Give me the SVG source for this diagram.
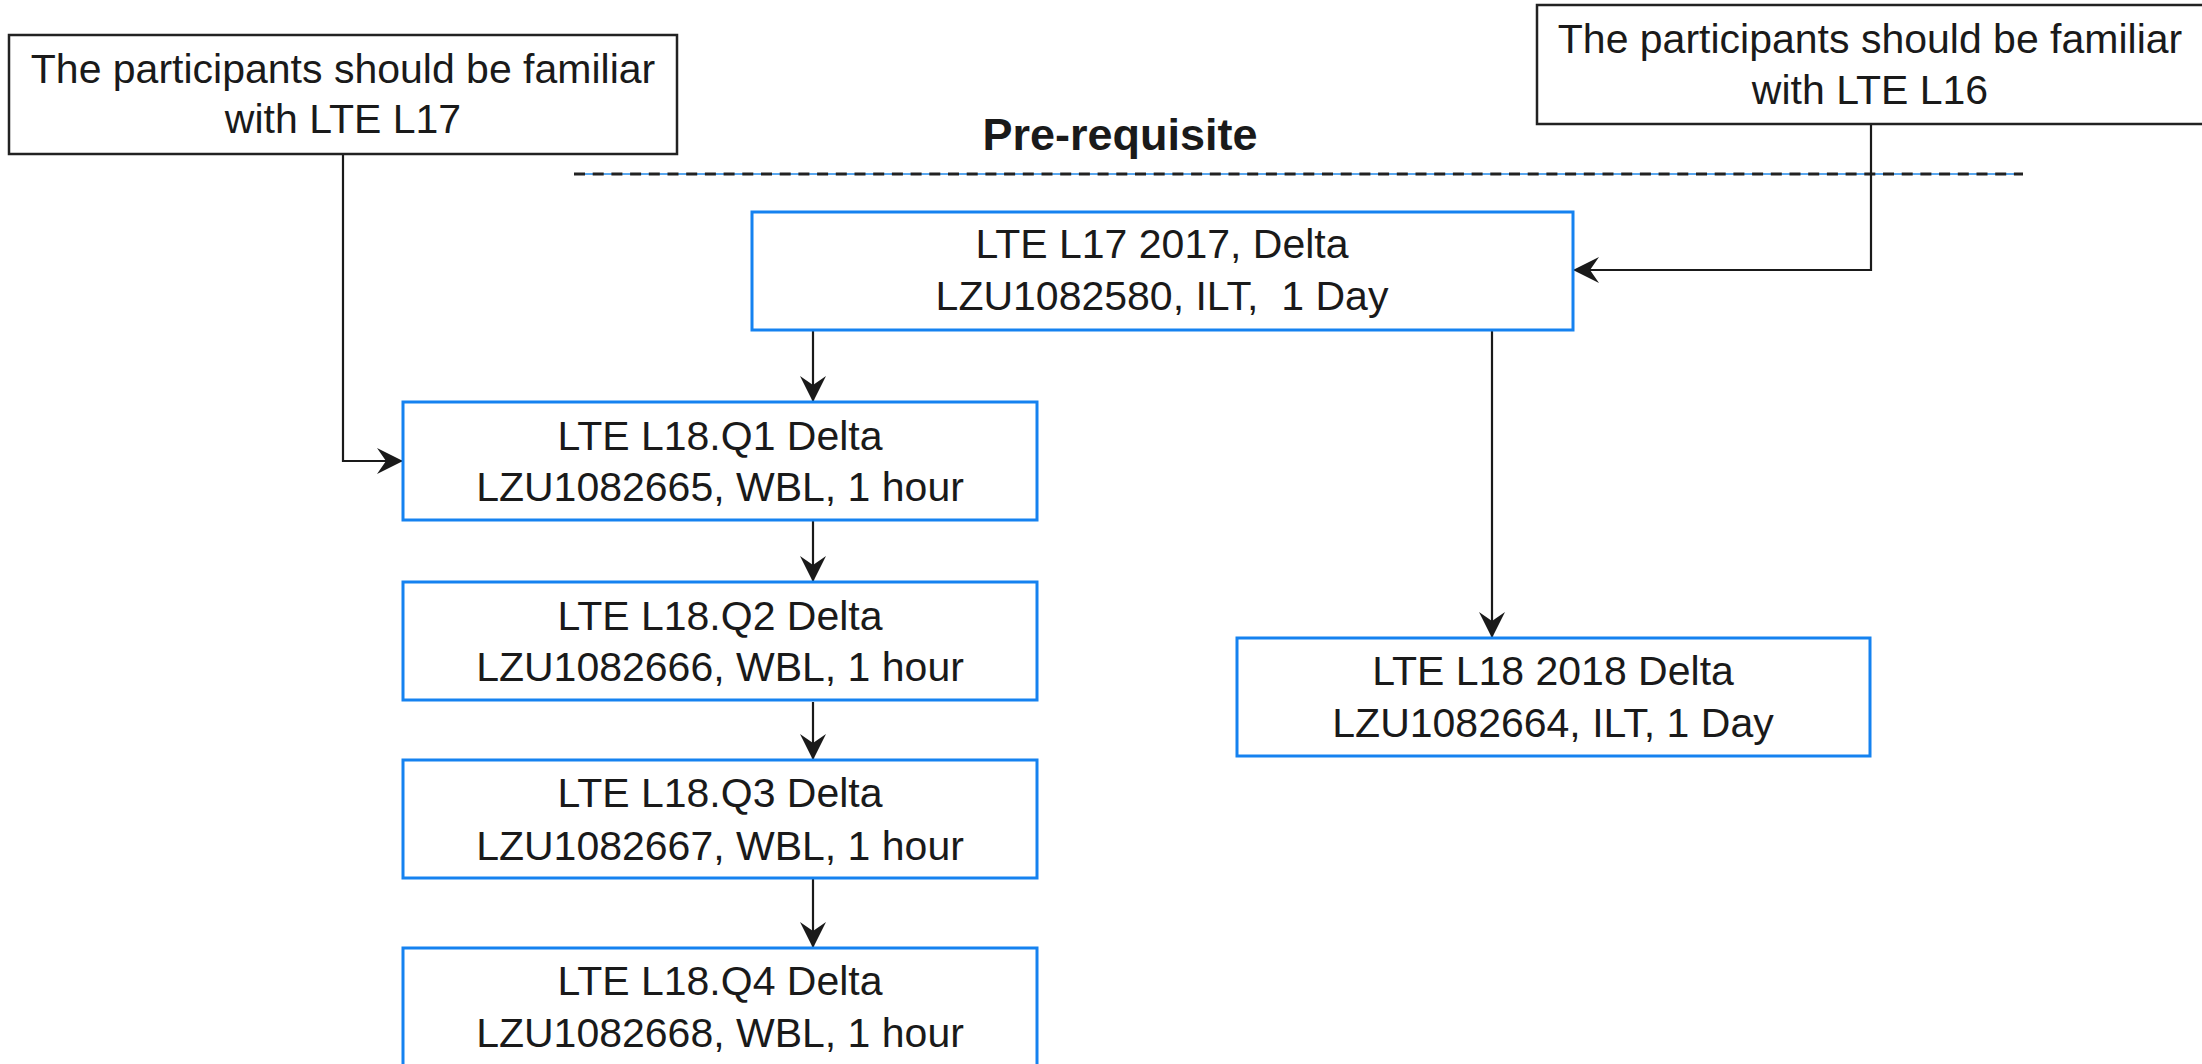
<svg xmlns="http://www.w3.org/2000/svg" width="2202" height="1064" viewBox="0 0 2202 1064">
<style>
.bg{fill:#ffffff}
.nb{fill:#ffffff;stroke:#1582f0;stroke-width:3}
.pb{fill:#ffffff;stroke:#222222;stroke-width:2.5}
.t{font-family:"Liberation Sans",Arial,sans-serif;font-size:41px;fill:#1a1a1a;text-anchor:middle}
.h{font-family:"Liberation Sans",Arial,sans-serif;font-size:45px;font-weight:bold;fill:#1a1a1a;text-anchor:middle}
.c{fill:none;stroke:#1a1a1a;stroke-width:2.2}
</style>
<defs>
<marker id="arr" viewBox="0 0 26 26" refX="26" refY="13" markerWidth="26" markerHeight="26" markerUnits="userSpaceOnUse" orient="auto">
<path d="M0,0 L26,13 L0,26 L9,13 Z" fill="#1a1a1a"/>
</marker>
</defs>
<rect class="bg" x="0" y="0" width="2202" height="1064"/>

<g id="divider">
<line x1="574" y1="174" x2="2023" y2="174" stroke="#5aa8f0" stroke-width="2"/>
<line x1="574" y1="174" x2="2023" y2="174" stroke="#222222" stroke-width="3" stroke-dasharray="11 7.7"/>
<text class="h" x="1120" y="150">Pre-requisite</text>
</g>

<g id="connectors">
<polyline class="c" points="343,155 343,461 403,461" marker-end="url(#arr)"/>
<polyline class="c" points="1871,125 1871,270 1573,270" marker-end="url(#arr)"/>
<line class="c" x1="813" y1="331" x2="813" y2="402" marker-end="url(#arr)"/>
<line class="c" x1="813" y1="521" x2="813" y2="582" marker-end="url(#arr)"/>
<line class="c" x1="813" y1="702" x2="813" y2="760" marker-end="url(#arr)"/>
<line class="c" x1="813" y1="877" x2="813" y2="948" marker-end="url(#arr)"/>
<line class="c" x1="1492" y1="331" x2="1492" y2="638" marker-end="url(#arr)"/>
</g>

<g id="prereq-l17">
<rect class="pb" x="9" y="35" width="668" height="119"/>
<text class="t" x="343" y="83">The participants should be familiar</text>
<text class="t" x="343" y="133">with LTE L17</text>
</g>

<g id="prereq-l16">
<rect class="pb" x="1537" y="5" width="680" height="119"/>
<text class="t" x="1870" y="53">The participants should be familiar</text>
<text class="t" x="1870" y="104">with LTE L16</text>
</g>

<g id="lte-l17">
<rect class="nb" x="752" y="212" width="821" height="118"/>
<text class="t" x="1162" y="258">LTE L17 2017, Delta</text>
<text class="t" x="1162" y="310" xml:space="preserve">LZU1082580, ILT,  1 Day</text>
</g>

<g id="lte-l18-q1">
<rect class="nb" x="403" y="402" width="634" height="118"/>
<text class="t" x="720" y="450">LTE L18.Q1 Delta</text>
<text class="t" x="720" y="501">LZU1082665, WBL, 1 hour</text>
</g>

<g id="lte-l18-q2">
<rect class="nb" x="403" y="582" width="634" height="118"/>
<text class="t" x="720" y="630">LTE L18.Q2 Delta</text>
<text class="t" x="720" y="681">LZU1082666, WBL, 1 hour</text>
</g>

<g id="lte-l18-q3">
<rect class="nb" x="403" y="760" width="634" height="118"/>
<text class="t" x="720" y="807">LTE L18.Q3 Delta</text>
<text class="t" x="720" y="860">LZU1082667, WBL, 1 hour</text>
</g>

<g id="lte-l18-q4">
<rect class="nb" x="403" y="948" width="634" height="120"/>
<text class="t" x="720" y="995">LTE L18.Q4 Delta</text>
<text class="t" x="720" y="1047">LZU1082668, WBL, 1 hour</text>
</g>

<g id="lte-l18">
<rect class="nb" x="1237" y="638" width="633" height="118"/>
<text class="t" x="1553" y="685">LTE L18 2018 Delta</text>
<text class="t" x="1553" y="737">LZU1082664, ILT, 1 Day</text>
</g>
</svg>
